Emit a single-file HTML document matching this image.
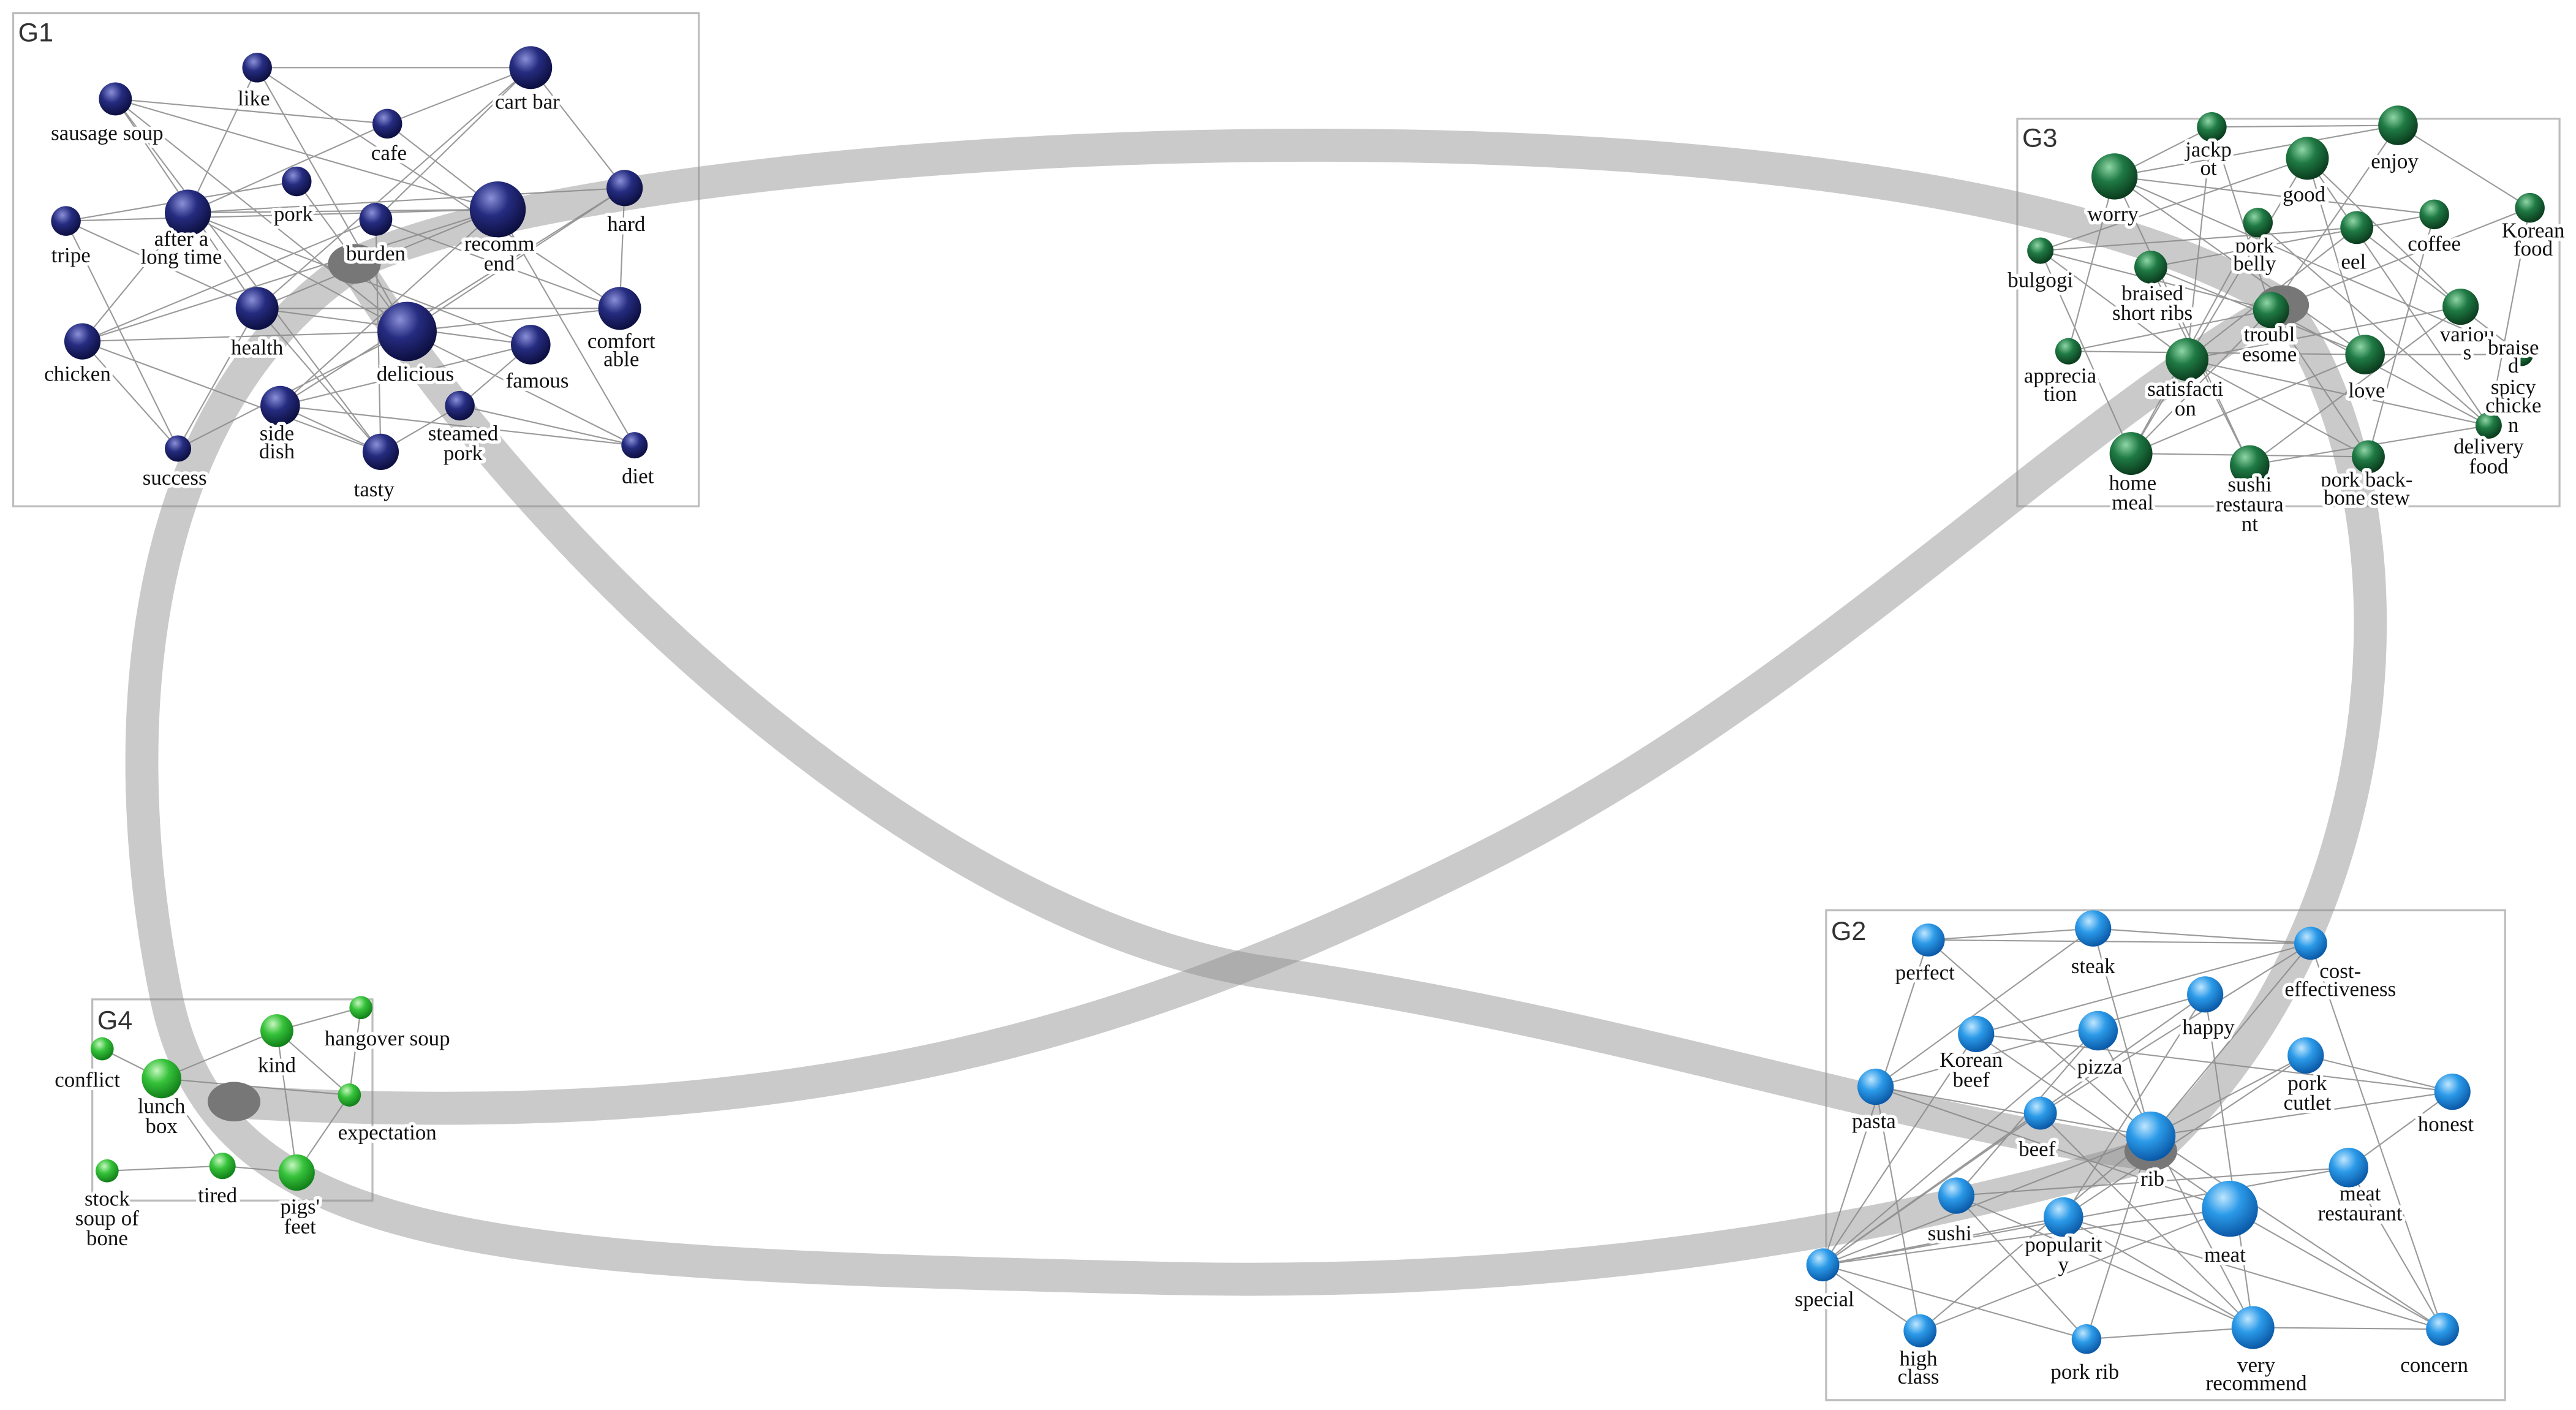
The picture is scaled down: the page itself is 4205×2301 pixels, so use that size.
<!DOCTYPE html>
<html><head><meta charset="utf-8"><style>
html,body{margin:0;padding:0;background:#fff;}
svg{display:block;}
.t{font-family:"Liberation Serif",serif;font-size:13px;fill:#111;text-anchor:middle;stroke:#fff;stroke-width:4px;paint-order:stroke;stroke-linejoin:round;}
.g{font-family:"Liberation Sans",sans-serif;font-size:16px;fill:#333;}
.e{fill:none;stroke:#9a9a9a;stroke-width:0.8;}
.b{fill:none;stroke:#8a8a8a;stroke-opacity:0.45;stroke-width:20;stroke-linecap:round;}
.box{fill:none;stroke:#bdbdbd;stroke-width:1.2;}
</style></head><body>
<svg width="4205" height="2301" viewBox="0 0 1563 855" preserveAspectRatio="none" xmlns="http://www.w3.org/2000/svg">
<defs>
<radialGradient id="n1" cx="0.38" cy="0.3" r="0.7"><stop offset="0" stop-color="#8a90d8"/><stop offset="0.45" stop-color="#262c80"/><stop offset="1" stop-color="#0c0f40"/></radialGradient>
<radialGradient id="n3" cx="0.38" cy="0.3" r="0.7"><stop offset="0" stop-color="#8fd6a6"/><stop offset="0.45" stop-color="#1f7a44"/><stop offset="1" stop-color="#0b3c1e"/></radialGradient>
<radialGradient id="n2" cx="0.38" cy="0.3" r="0.7"><stop offset="0" stop-color="#bfe6ff"/><stop offset="0.45" stop-color="#2b9ae8"/><stop offset="1" stop-color="#0b5aa8"/></radialGradient>
<radialGradient id="n4" cx="0.38" cy="0.3" r="0.7"><stop offset="0" stop-color="#c6f7c0"/><stop offset="0.45" stop-color="#36c23a"/><stop offset="1" stop-color="#12801a"/></radialGradient>
</defs>
<rect width="1563" height="855" fill="#fff"/>
<rect class="box" x="8" y="8" width="416" height="299"/>
<rect class="box" x="1224" y="72" width="329" height="235"/>
<rect class="box" x="1108" y="552" width="412" height="297"/>
<rect class="box" x="56" y="606" width="170" height="122"/>
<text class="g" x="11" y="25">G1</text>
<text class="g" x="1227" y="89">G3</text>
<text class="g" x="1111" y="570">G2</text>
<text class="g" x="59" y="624">G4</text>

<path class="e" d="M70,60L247,201 M70,60L302,127 M70,60L156,187 M156,41L322,41 M156,41L247,201 M156,41L114,129 M322,41L235,75 M322,41L228,133 M322,41L379,114 M322,41L156,187 M235,75L114,129 M235,75L302,127 M235,75L70,60 M180,110L40,134 M180,110L247,201 M379,114L247,201 M379,114L114,129 M379,114L376,187 M40,134L302,127 M40,134L156,187 M114,129L302,127 M114,129L247,201 M114,129L322,209 M114,129L50,207 M228,133L50,207 M228,133L376,187 M228,133L231,274 M302,127L156,187 M302,127L170,246 M302,127L385,270 M376,187L156,187 M376,187L247,201 M156,187L322,209 M156,187L108,272 M156,187L231,274 M247,201L50,207 M247,201L385,270 M247,201L108,272 M322,209L170,246 M322,209L279,246 M50,207L231,274 M50,207L108,272 M170,246L231,274 M170,246L385,270 M279,246L231,274 M279,246L385,270 M40,134L108,272 M70,60L231,274 M156,41L376,187 M379,114L170,246 M302,127L50,207"/>
<path class="e" d="M1342,77L1378,188 M1342,77L1283,107 M1342,77L1455,76 M1342,77L1327,218 M1455,76L1378,188 M1455,76L1283,107 M1455,76L1535,126 M1400,96L1238,152 M1400,96L1493,186 M1400,96L1293,275 M1400,96L1435,215 M1283,107L1435,215 M1283,107L1365,282 M1283,107L1477,130 M1283,107L1255,213 M1535,126L1378,188 M1535,126L1510,258 M1477,130L1305,162 M1477,130L1437,277 M1370,135L1293,275 M1370,135L1510,258 M1430,138L1238,152 M1430,138L1327,218 M1430,138L1530,215 M1238,152L1378,188 M1238,152L1327,218 M1238,152L1293,275 M1305,162L1435,215 M1305,162L1365,282 M1378,188L1510,258 M1378,188L1293,275 M1378,188L1437,277 M1378,188L1255,213 M1493,186L1327,218 M1493,186L1365,282 M1255,213L1435,215 M1327,218L1437,277 M1327,218L1510,258 M1435,215L1293,275 M1435,215L1530,215 M1293,275L1437,277 M1365,282L1510,258 M1283,107L1530,215 M1400,96L1510,258"/>
<path class="e" d="M1270,563L1170,570 M1270,563L1402,572 M1270,563L1305,689 M1270,563L1138,659 M1170,570L1402,572 M1170,570L1305,689 M1170,570L1106,767 M1402,572L1199,627 M1402,572L1305,689 M1402,572L1238,675 M1338,603L1138,659 M1338,603L1252,738 M1338,603L1106,767 M1199,627L1353,733 M1199,627L1106,767 M1199,627L1488,662 M1273,625L1187,725 M1273,625L1367,805 M1273,625L1106,767 M1399,640L1305,689 M1399,640L1488,662 M1399,640L1252,738 M1138,659L1305,689 M1138,659L1165,807 M1488,662L1305,689 M1488,662L1425,708 M1238,675L1367,805 M1238,675L1106,767 M1305,689L1106,767 M1305,689L1165,807 M1305,689L1266,812 M1305,689L1482,806 M1425,708L1106,767 M1425,708L1482,806 M1425,708L1187,725 M1353,733L1106,767 M1353,733L1165,807 M1353,733L1482,806 M1353,733L1138,659 M1187,725L1367,805 M1187,725L1266,812 M1252,738L1106,767 M1252,738L1367,805 M1252,738L1482,806 M1106,767L1165,807 M1106,767L1266,812 M1266,812L1367,805 M1367,805L1482,806 M1402,572L1482,806 M1338,603L1367,805"/>
<path class="e" d="M219,611L168,625 M62,636L98,654 M98,654L168,625 M98,654L135,707 M168,625L212,664 M168,625L180,711 M212,664L180,711 M65,710L135,707 M135,707L180,711 M219,611L212,664 M98,654L212,664"/>

<path class="b" d="M215,160 C380,80 1150,40 1385,185"/>
<path class="b" d="M1385,185 C1470,300 1460,560 1305,700"/>
<path class="b" d="M215,160 C320,330 560,560 770,590 S1150,680 1305,700"/>
<path class="b" d="M140,668 C500,690 700,620 900,520 S1250,260 1385,185"/>
<path class="b" d="M215,160 C80,250 70,450 100,600 C130,760 300,765 700,775 C900,780 1100,760 1305,700"/>

<g fill="#777">
<ellipse cx="215" cy="160" rx="16" ry="12"/>
<ellipse cx="1385" cy="185" rx="16" ry="12"/>
<ellipse cx="1305" cy="698" rx="16" ry="12"/>
<ellipse cx="142" cy="668" rx="16" ry="12"/>
</g>

<g fill="url(#n1)">
<circle cx="322" cy="41" r="13"/><circle cx="156" cy="41" r="9"/><circle cx="70" cy="60" r="10"/><circle cx="235" cy="75" r="9"/><circle cx="180" cy="110" r="9"/><circle cx="379" cy="114" r="11"/><circle cx="40" cy="134" r="9"/><circle cx="114" cy="129" r="14"/><circle cx="228" cy="133" r="10"/><circle cx="302" cy="127" r="17"/><circle cx="376" cy="187" r="13"/><circle cx="156" cy="187" r="13"/><circle cx="247" cy="201" r="18"/><circle cx="322" cy="209" r="12"/><circle cx="50" cy="207" r="11"/><circle cx="170" cy="246" r="12"/><circle cx="279" cy="246" r="9"/><circle cx="385" cy="270" r="8"/><circle cx="108" cy="272" r="8"/><circle cx="231" cy="274" r="11"/>
</g>
<g fill="url(#n3)">
<circle cx="1342" cy="77" r="9"/><circle cx="1455" cy="76" r="12"/><circle cx="1400" cy="96" r="13"/><circle cx="1283" cy="107" r="14"/><circle cx="1535" cy="126" r="9"/><circle cx="1477" cy="130" r="9"/><circle cx="1370" cy="135" r="9"/><circle cx="1430" cy="138" r="10"/><circle cx="1238" cy="152" r="8"/><circle cx="1305" cy="162" r="10"/><circle cx="1378" cy="188" r="11"/><circle cx="1493" cy="186" r="11"/><circle cx="1530" cy="215" r="7"/><circle cx="1255" cy="213" r="8"/><circle cx="1327" cy="218" r="13"/><circle cx="1435" cy="215" r="12"/><circle cx="1510" cy="258" r="8"/><circle cx="1293" cy="275" r="13"/><circle cx="1365" cy="282" r="12"/><circle cx="1437" cy="277" r="10"/>
</g>
<g fill="url(#n2)">
<circle cx="1270" cy="563" r="11"/><circle cx="1170" cy="570" r="10"/><circle cx="1402" cy="572" r="10"/><circle cx="1338" cy="603" r="11"/><circle cx="1199" cy="627" r="11"/><circle cx="1273" cy="625" r="12"/><circle cx="1399" cy="640" r="11"/><circle cx="1138" cy="659" r="11"/><circle cx="1488" cy="662" r="11"/><circle cx="1238" cy="675" r="10"/><circle cx="1305" cy="689" r="15"/><circle cx="1425" cy="708" r="12"/><circle cx="1353" cy="733" r="17"/><circle cx="1187" cy="725" r="11"/><circle cx="1252" cy="738" r="12"/><circle cx="1106" cy="767" r="10"/><circle cx="1165" cy="807" r="10"/><circle cx="1266" cy="812" r="9"/><circle cx="1367" cy="805" r="13"/><circle cx="1482" cy="806" r="10"/>
</g>
<g fill="url(#n4)">
<circle cx="219" cy="611" r="7"/><circle cx="62" cy="636" r="7"/><circle cx="168" cy="625" r="10"/><circle cx="98" cy="654" r="12"/><circle cx="212" cy="664" r="7"/><circle cx="65" cy="710" r="7"/><circle cx="135" cy="707" r="8"/><circle cx="180" cy="711" r="11"/>
</g>

<g class="t">
<text x="320" y="66">cart bar</text><text x="154" y="64">like</text><text x="65" y="85">sausage soup</text><text x="236" y="97">cafe</text><text x="178" y="134">pork</text><text x="380" y="140">hard</text><text x="43" y="159">tripe</text><text x="110" y="149">after a</text><text x="110" y="160">long time</text><text x="228" y="158">burden</text><text x="303" y="152">recomm</text><text x="303" y="164">end</text><text x="377" y="211">comfort</text><text x="377" y="222">able</text><text x="156" y="215">health</text><text x="252" y="231">delicious</text><text x="326" y="235">famous</text><text x="47" y="231">chicken</text><text x="168" y="267">side</text><text x="168" y="278">dish</text><text x="281" y="267">steamed</text><text x="281" y="279">pork</text><text x="387" y="293">diet</text><text x="106" y="294">success</text><text x="227" y="301">tasty</text>

<text x="1340" y="95">jackp</text><text x="1340" y="106">ot</text><text x="1453" y="102">enjoy</text><text x="1398" y="122">good</text><text x="1282" y="134">worry</text><text x="1537" y="144">Korean</text><text x="1537" y="155">food</text><text x="1477" y="152">coffee</text><text x="1368" y="153">pork</text><text x="1368" y="164">belly</text><text x="1428" y="163">eel</text><text x="1238" y="174">bulgogi</text><text x="1306" y="182">braised</text><text x="1306" y="194">short ribs</text><text x="1377" y="207">troubl</text><text x="1377" y="219">esome</text><text x="1497" y="207">variou</text><text x="1497" y="218">s</text><text x="1525" y="215">braise</text><text x="1525" y="226">d</text><text x="1525" y="239">spicy</text><text x="1525" y="250">chicke</text><text x="1525" y="262">n</text><text x="1250" y="232">apprecia</text><text x="1250" y="243">tion</text><text x="1326" y="240">satisfacti</text><text x="1326" y="252">on</text><text x="1436" y="241">love</text><text x="1510" y="275">delivery</text><text x="1510" y="287">food</text><text x="1294" y="297">home</text><text x="1294" y="309">meal</text><text x="1365" y="298">sushi</text><text x="1365" y="310">restaura</text><text x="1365" y="322">nt</text><text x="1436" y="295">pork back-</text><text x="1436" y="306">bone stew</text>

<text x="1270" y="590">steak</text><text x="1168" y="594">perfect</text><text x="1420" y="593">cost-</text><text x="1420" y="604">effectiveness</text><text x="1340" y="627">happy</text><text x="1196" y="647">Korean</text><text x="1196" y="659">beef</text><text x="1274" y="651">pizza</text><text x="1400" y="661">pork</text><text x="1400" y="673">cutlet</text><text x="1137" y="684">pasta</text><text x="1484" y="686">honest</text><text x="1236" y="701">beef</text><text x="1306" y="719">rib</text><text x="1432" y="728">meat</text><text x="1432" y="740">restaurant</text><text x="1350" y="765">meat</text><text x="1183" y="752">sushi</text><text x="1252" y="759">popularit</text><text x="1252" y="771">y</text><text x="1107" y="792">special</text><text x="1164" y="828">high</text><text x="1164" y="839">class</text><text x="1265" y="836">pork rib</text><text x="1369" y="832">very</text><text x="1369" y="843">recommend</text><text x="1477" y="832">concern</text>

<text x="235" y="634">hangover soup</text><text x="53" y="659">conflict</text><text x="168" y="650">kind</text><text x="98" y="675">lunch</text><text x="98" y="687">box</text><text x="235" y="691">expectation</text><text x="65" y="731">stock</text><text x="65" y="743">soup of</text><text x="65" y="755">bone</text><text x="132" y="729">tired</text><text x="182" y="736">pigs'</text><text x="182" y="748">feet</text>
</g>
</svg>
</body></html>
